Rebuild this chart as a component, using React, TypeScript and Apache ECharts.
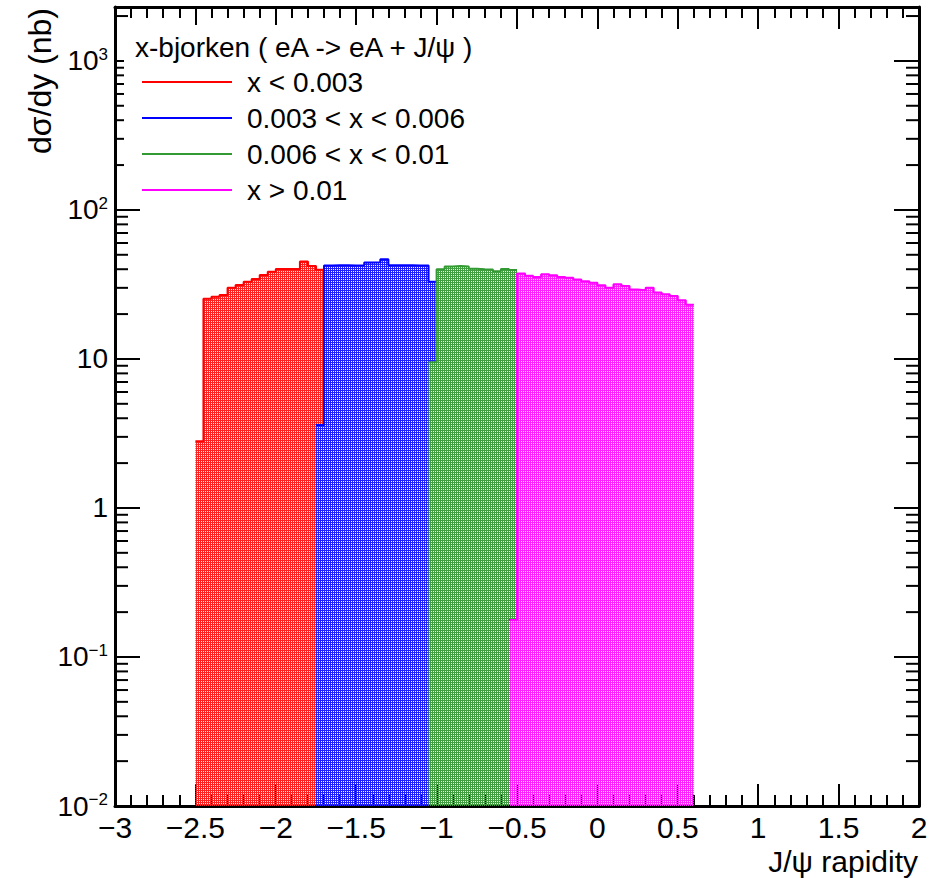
import React, { useEffect, useRef } from 'react';
import * as echarts from 'echarts';

// ---- data ----
const BIN_WIDTH = 0.05;
const Y_MIN = 0.01;
const Y_MAX = 2300;
const X_MIN = -3;
const X_MAX = 2;

const legendHeader = 'x-bjorken ( eA -> eA + J/\u03c8 )';
const legendLabels = ['x < 0.003', '0.003 < x < 0.006', '0.006 < x < 0.01', 'x > 0.01'];
const seriesColors = ['#ff0000', '#0000ff', '#339933', '#ff00ff'];
const fillColors = ['#ff2020', '#2020ff', '#40a040', '#ff20ff'];

const redStart = -2.5;
const redValues = [2.8, 25.3, 26.1, 26.9, 30.0, 31.4, 33.0, 34.4, 36.6, 38.5, 40.2, 40.2, 40.2, 45.0, 42.1, 39.6];

const blueStart = -1.75;
const blueValues = [3.6, 42.3, 42.5, 42.5, 42.4, 42.6, 44.3, 44.5, 46.7, 42.6, 42.5, 42.5, 42.4, 42.3, 32.9];

const greenStart = -1.05;
const greenValues = [9.5, 40.0, 41.8, 42.0, 41.8, 40.3, 40.0, 39.8, 38.8, 40.2, 39.5];

const magentaStart = -0.55;
const magentaValues = [0.177, 37.4, 36.1, 35.5, 37.0, 36.4, 35.5, 35.1, 34.1, 33.2, 32.4, 31.2, 30.0, 31.7, 30.9, 29.2, 28.9, 30.0, 27.9, 27.2, 26.4, 24.8, 23.1];

const histStarts = [redStart, blueStart, greenStart, magentaStart];
const histValues = [redValues, blueValues, greenValues, magentaValues];

const xTitle = 'J/\u03c8 rapidity';
const yTitle = 'd\u03c3/dy (nb)';

const FONT = "'Liberation Sans', Arial, Helvetica, sans-serif";

// step outline through the bin tops; the area is filled down to the axis minimum
function histPoints(start: number, values: number[]) {
  const pts: number[][] = [];
  values.forEach((v, i) => pts.push([start + i * BIN_WIDTH, v]));
  const end = start + values.length * BIN_WIDTH;
  pts.push([end, values[values.length - 1]]);
  return pts;
}

function makePattern(color: string) {
  const c = document.createElement('canvas');
  c.width = 2;
  c.height = 2;
  const ctx = c.getContext('2d')!;
  ctx.fillStyle = color;
  ctx.fillRect(0, 0, 2, 1);
  ctx.fillRect(0, 1, 1, 1);
  return { image: c, repeat: 'repeat', imageWidth: 2, imageHeight: 2 } as any;
}

function minorLogTicks() {
  const out: number[] = [];
  for (let e = -2; e <= 3; e++) {
    for (let m = 2; m <= 9; m++) {
      const v = m * Math.pow(10, e);
      if (v < Y_MAX) out.push(v);
    }
  }
  return out;
}

const fmtX = (v: number) => {
  const r = Math.round(v * 10) / 10;
  return String(r).replace('-', '\u2212');
};

const fmtY = (v: number) => {
  const e = Math.log10(v);
  const k = Math.round(e);
  if (Math.abs(e - k) > 1e-6) return '';
  if (k === 0) return '{b|1}';
  if (k === 1) return '{b|10}';
  return '{b|10}{s|' + (k < 0 ? '\u2212' + -k : String(k)) + '}';
};

export default function App() {
  const ref = useRef<HTMLDivElement>(null);
  useEffect(() => {
    if (!ref.current) return;
    const chart = echarts.init(ref.current, undefined, { renderer: 'svg' });

    const tickStyle = { color: '#000', width: 2 };
    const axisLineStyle = { color: '#000', width: 3 };

    const xAxisBase = {
      type: 'value',
      min: X_MIN,
      max: X_MAX,
      interval: 0.5,
      axisLine: { show: true, onZero: false, lineStyle: axisLineStyle },
      axisTick: { show: true, inside: true, length: 22, lineStyle: tickStyle },
      minorTick: { show: true, splitNumber: 5, length: 11, lineStyle: tickStyle },
      splitLine: { show: false },
      minorSplitLine: { show: false },
    };
    const yAxisBase = {
      type: 'log',
      logBase: 10,
      min: Y_MIN,
      max: Y_MAX,
      axisLine: { show: true, onZero: false, lineStyle: axisLineStyle },
      axisTick: { show: true, inside: true, length: 25, lineStyle: tickStyle },
      splitLine: { show: false },
    };

    const histSeries = histValues.map((vals, i) => ({
      type: 'line',
      name: legendLabels[i],
      data: histPoints(histStarts[i], vals),
      step: 'end',
      symbol: 'none',
      showSymbol: false,
      xAxisIndex: 0,
      yAxisIndex: 0,
      lineStyle: { color: seriesColors[i], width: 2 },
      itemStyle: { color: seriesColors[i] },
      areaStyle: { color: makePattern(fillColors[i]), opacity: 1, origin: 'start' },
      z: 2,
      silent: true,
    }));

    const minorSeries = {
      type: 'custom',
      xAxisIndex: 0,
      yAxisIndex: 0,
      silent: true,
      clip: false,
      z: 1,
      data: minorLogTicks().map((v) => [X_MIN, v]),
      renderItem: (params: any, api: any) => {
        const v = api.value(1);
        const l = api.coord([X_MIN, v]);
        const r = api.coord([X_MAX, v]);
        const st = { stroke: '#000', lineWidth: 2 };
        return {
          type: 'group',
          children: [
            { type: 'line', shape: { x1: l[0], y1: l[1], x2: l[0] + 13, y2: l[1] }, style: st },
            { type: 'line', shape: { x1: r[0] - 13, y1: r[1], x2: r[0], y2: r[1] }, style: st },
          ],
        };
      },
    };

    chart.setOption({
      animation: false,
      backgroundColor: '#ffffff',
      grid: { left: 115, right: 14, top: 7, bottom: 72, show: false },
      xAxis: [
        {
          ...xAxisBase,
          position: 'bottom',
          axisLabel: {
            show: true,
            fontSize: 30,
            fontFamily: FONT,
            color: '#000',
            margin: 6,
            showMinLabel: true,
            showMaxLabel: true,
            hideOverlap: false,
            formatter: fmtX,
          },
        },
        { ...xAxisBase, position: 'top', axisLabel: { show: false } },
      ],
      yAxis: [
        {
          ...yAxisBase,
          position: 'left',
          axisLabel: {
            show: true,
            margin: 7,
            color: '#000',
            formatter: fmtY,
            rich: {
              b: { fontSize: 28, lineHeight: 30, fontFamily: FONT, color: '#000' },
              s: { fontSize: 17, lineHeight: 17, verticalAlign: 'top', fontFamily: FONT, color: '#000' },
            },
          },
        },
        { ...yAxisBase, position: 'right', axisLabel: { show: false } },
      ],
      legend: {
        show: true,
        orient: 'vertical',
        left: 142,
        top: 68,
        padding: 0,
        itemGap: 8,
        itemWidth: 90,
        itemHeight: 2,
        icon: 'rect',
        selectedMode: false,
        z: 20,
        data: legendLabels,
        textStyle: { fontSize: 28, lineHeight: 28, color: '#000', fontFamily: FONT, padding: [0, 0, 0, 10] },
      },
      graphic: [
        {
          type: 'rect',
          z: 10,
          silent: true,
          shape: { x: 124, y: 25, width: 366, height: 178 },
          style: { fill: '#ffffff' },
        },
        {
          type: 'text',
          z: 11,
          x: 135,
          y: 47,
          style: {
            text: legendHeader,
            fontSize: 28,
            fontFamily: FONT,
            fill: '#000',
            textAlign: 'left',
            align: 'left',
            textVerticalAlign: 'middle',
            verticalAlign: 'middle',
          },
        },
        {
          type: 'text',
          z: 11,
          x: 918,
          y: 861,
          style: {
            text: xTitle,
            fontSize: 30,
            fontFamily: FONT,
            fill: '#000',
            textAlign: 'right',
            align: 'right',
            textVerticalAlign: 'middle',
            verticalAlign: 'middle',
          },
        },
        {
          type: 'text',
          z: 11,
          x: 40,
          y: 8,
          rotation: Math.PI / 2,
          style: {
            text: yTitle,
            fontSize: 32,
            fontFamily: FONT,
            fill: '#000',
            textAlign: 'right',
            align: 'right',
            textVerticalAlign: 'middle',
            verticalAlign: 'middle',
          },
        },
      ],
      series: [...histSeries, minorSeries],
    });

    return () => chart.dispose();
  }, []);

  return (
    <div
      ref={ref}
      style={{ position: 'fixed', left: 0, top: 0, width: 933, height: 878, background: '#fff' }}
    />
  );
}
